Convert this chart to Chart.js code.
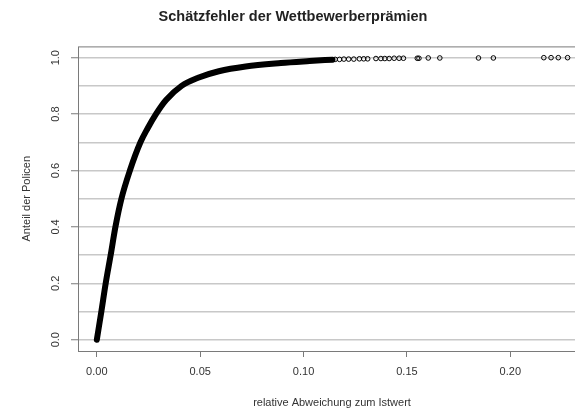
<!DOCTYPE html>
<html lang="de">
<head>
<meta charset="utf-8">
<title>Schätzfehler der Wettbewerberprämien</title>
<script src="https://cdn.jsdelivr.net/npm/chart.js@4.4.0/dist/chart.umd.min.js"></script>
<style>
  html, body { margin: 0; padding: 0; overflow: hidden; background: #fff; }
  #wrap { width: 664px; height: 413px; }
</style>
</head>
<body>
<div id="wrap"><canvas id="ecdfChart"></canvas></div>
<script>
// values
const curveX = [0, 0.0022, 0.0043, 0.0067, 0.0090, 0.0119, 0.0160, 0.0211, 0.0246, 0.0286,
                0.0335, 0.0410, 0.0490, 0.0590, 0.0720, 0.0890, 0.1029, 0.1140];
const curveY = [0, 0.10, 0.20, 0.30, 0.40, 0.50, 0.60, 0.70, 0.75, 0.80,
                0.85, 0.90, 0.929, 0.952, 0.969, 0.981, 0.988, 0.993];
const tailX = [0.1153, 0.1174, 0.1195, 0.1218, 0.1243, 0.1270, 0.1291, 0.1310, 0.1350, 0.1374,
               0.1393, 0.1414, 0.1438, 0.1462, 0.1483, 0.1550, 0.1558, 0.1603, 0.1659, 0.1846,
               0.1918, 0.2162, 0.2197, 0.2232, 0.2277];
const tailY = [0.994, 0.994, 0.995, 0.995, 0.995, 0.996, 0.996, 0.996, 0.997, 0.997,
               0.997, 0.997, 0.998, 0.998, 0.998, 0.998, 0.998, 0.999, 0.999, 0.999,
               0.999, 1.0, 1.0, 1.0, 1.0];
const xTicks = [0, 0.05, 0.10, 0.15, 0.20];
const yTicks = [0, 0.1, 0.2, 0.3, 0.4, 0.5, 0.6, 0.7, 0.8, 0.9, 1.0];

const boxColor = "#7a7a7a";
const textColor = "#333";

// R style box round the plot region
const plotBox = {
  id: "plotBox",
  afterDraw(chart) {
    const a = chart.chartArea;
    const ctx = chart.ctx;
    ctx.save();
    ctx.strokeStyle = boxColor;
    ctx.lineWidth = 1;
    ctx.strokeRect(a.left + 0.5, a.top + 0.5, a.right - a.left, a.bottom - a.top);
    ctx.restore();
  }
};

const ctx = document.getElementById("ecdfChart").getContext("2d");
const chart = new Chart(ctx, {
  type: "scatter",
  data: {
    datasets: [
      {
        data: curveX.map((x, i) => ({ x: x, y: curveY[i] })),
        showLine: true,
        borderColor: "#000",
        borderWidth: 6,
        borderCapStyle: "round",
        borderJoinStyle: "round",
        cubicInterpolationMode: "monotone",
        pointRadius: 0
      },
      {
        data: tailX.map((x, i) => ({ x: x, y: tailY[i] })),
        showLine: false,
        pointStyle: "circle",
        pointRadius: 2.3,
        borderWidth: 1,
        borderColor: "#000",
        backgroundColor: "rgba(0,0,0,0)"
      }
    ]
  },
  options: {
    responsive: true,
    maintainAspectRatio: false,
    animation: false,
    layout: { padding: { left: 0, right: 78, top: 0, bottom: 0 } },
    plugins: {
      legend: { display: false },
      tooltip: { enabled: false },
      title: {
        display: true,
        text: "Schätzfehler der Wettbewerberprämien",
        color: "#222",
        font: { family: "'Liberation Sans', Arial, sans-serif", size: 14.5, weight: "bold" },
        padding: { top: 8, bottom: 21 }
      }
    },
    scales: {
      x: {
        type: "linear",
        min: -0.0091,
        max: 0.2366,
        afterBuildTicks: (scale) => { scale.ticks = xTicks.map(v => ({ value: v })); },
        afterFit: (scale) => { scale.height = 62; },
        border: { display: false },
        grid: { drawOnChartArea: false, drawTicks: true, tickLength: 6, tickColor: boxColor, tickWidth: 1 },
        ticks: {
          padding: 8,
          color: textColor,
          font: { family: "'Liberation Sans', Arial, sans-serif", size: 11 },
          maxRotation: 0,
          callback: (v) => Number(v).toFixed(2)
        },
        title: {
          display: true,
          text: "relative Abweichung zum Istwert",
          color: textColor,
          font: { family: "'Liberation Sans', Arial, sans-serif", size: 11 },
          padding: { top: 3, bottom: 3 }
        }
      },
      y: {
        type: "linear",
        min: -0.04,
        max: 1.04,
        afterBuildTicks: (scale) => { scale.ticks = yTicks.map(v => ({ value: v })); },
        afterFit: (scale) => { scale.width = 78; },
        border: { display: false },
        grid: {
          color: "#c8c8c8",
          lineWidth: 1.5,
          tickLength: 7,
          tickWidth: 1,
          tickColor: (c) => (Math.round(c.tick.value * 10) % 2 === 0 ? boxColor : "rgba(0,0,0,0)")
        },
        ticks: {
          padding: 7,
          minRotation: 90,
          maxRotation: 90,
          crossAlign: "center",
          color: textColor,
          font: { family: "'Liberation Sans', Arial, sans-serif", size: 11 },
          callback: (v) => (Math.round(v * 10) % 2 === 0 ? Number(v).toFixed(1) : "")
        },
        title: {
          display: true,
          text: "Anteil der Policen",
          color: textColor,
          font: { family: "'Liberation Sans', Arial, sans-serif", size: 11 },
          padding: { top: 20, bottom: 0 }
        }
      }
    }
  },
  plugins: [plotBox]
});
</script>
</body>
</html>
